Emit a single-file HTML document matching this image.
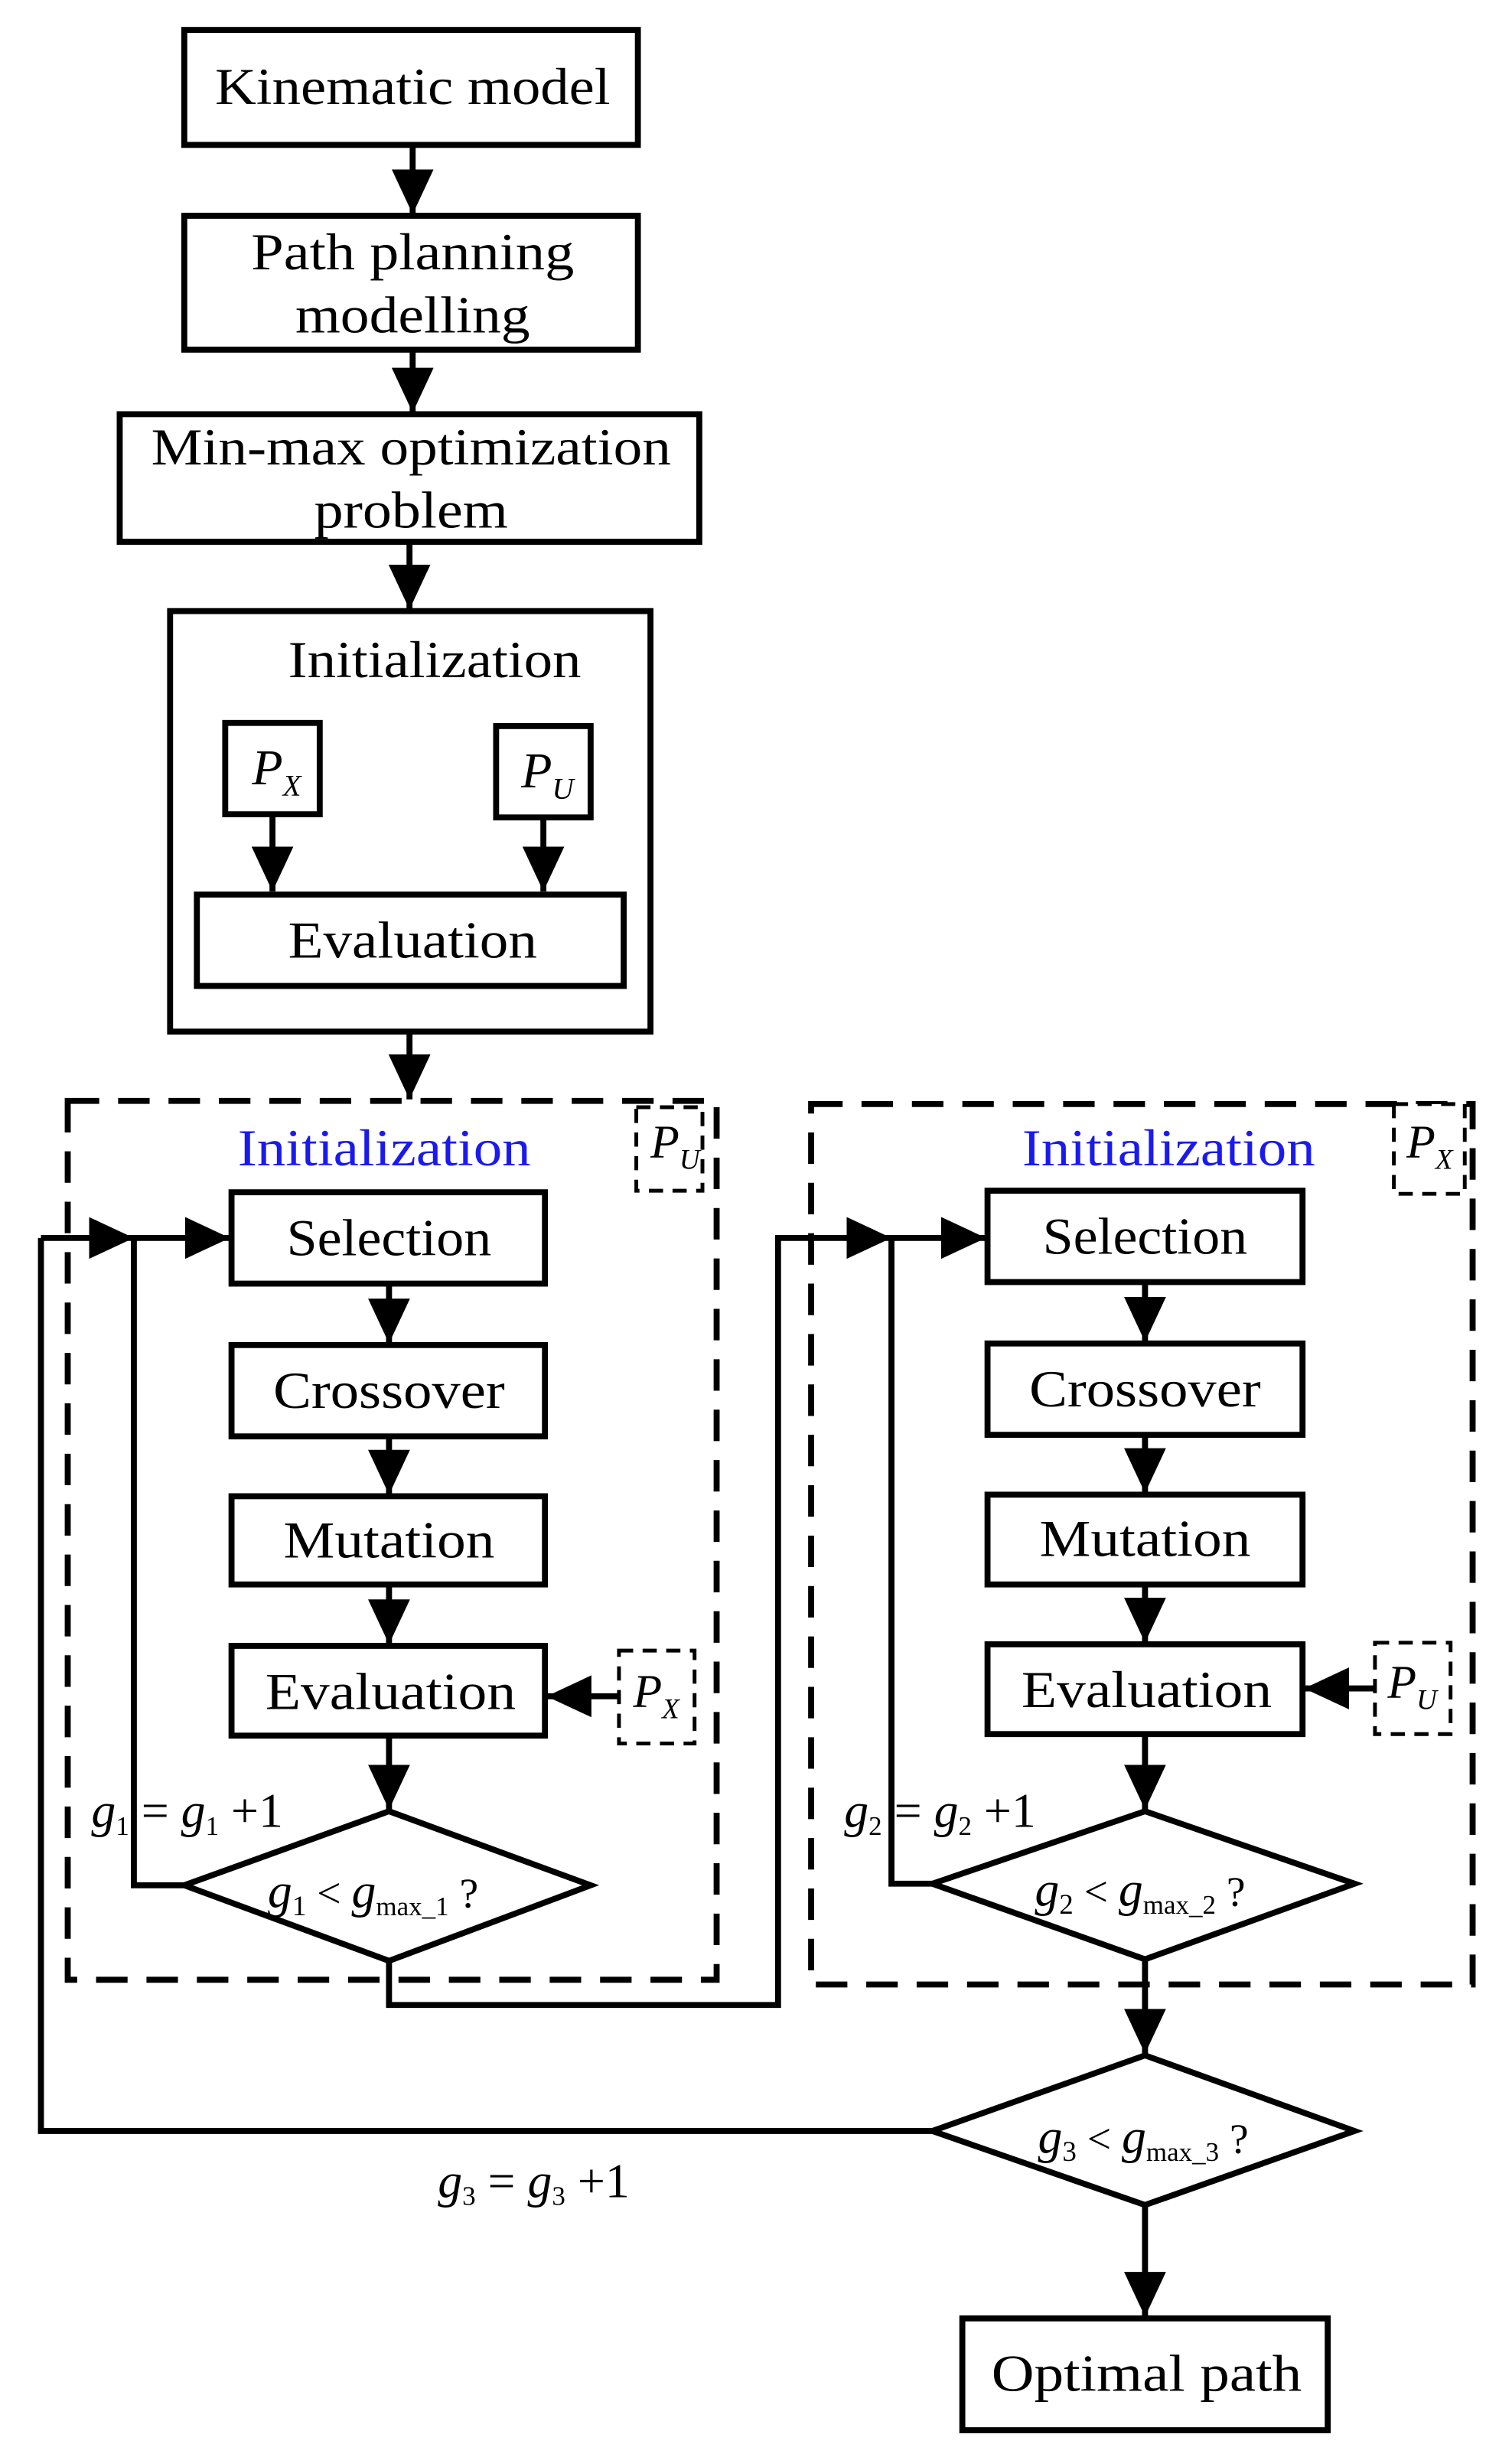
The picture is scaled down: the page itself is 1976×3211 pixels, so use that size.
<!DOCTYPE html>
<html><head><meta charset="utf-8"><style>
html,body{margin:0;padding:0;background:#fff;}
svg{display:block;}
text{font-family:"Liberation Serif",serif;fill:#000;}
.b{fill:#fff;stroke:#000;stroke-width:3.8;}
.d{fill:none;stroke:#000;stroke-width:3.8;stroke-dasharray:20 12;}
.ds{fill:#fff;stroke:#000;stroke-width:2.4;stroke-dasharray:9 6;}
.l{fill:none;stroke:#000;stroke-width:3.8;}
.t{font-size:33px;text-anchor:middle;}
.i{font-style:italic;}
</style></head><body>
<svg width="1976" height="3211" viewBox="0 0 960 1560" preserveAspectRatio="none" xmlns="http://www.w3.org/2000/svg">
<defs>
<marker id="a" viewBox="0 0 10 10" refX="10" refY="5" markerWidth="7.5" markerHeight="7" markerUnits="strokeWidth" orient="auto-start-reverse" preserveAspectRatio="none"><path d="M0,0 L10,5 L0,10 z" fill="#000"/></marker>
</defs>

<rect class="b" x="117" y="19" width="288" height="73"/>
<text class="t" x="262" y="66" textLength="251" lengthAdjust="spacingAndGlyphs">Kinematic model</text>
<line class="l" x1="262" y1="92" x2="262" y2="136" marker-end="url(#a)"/>
<rect class="b" x="117" y="137" width="288" height="85"/>
<text class="t" x="262" y="171" textLength="205" lengthAdjust="spacingAndGlyphs">Path planning</text>
<text class="t" x="262" y="211" textLength="149" lengthAdjust="spacingAndGlyphs">modelling</text>
<line class="l" x1="262" y1="222" x2="262" y2="262" marker-end="url(#a)"/>
<rect class="b" x="76" y="263" width="368" height="81"/>
<text class="t" x="261" y="295" textLength="330" lengthAdjust="spacingAndGlyphs">Min-max optimization</text>
<text class="t" x="261" y="335" textLength="123" lengthAdjust="spacingAndGlyphs">problem</text>
<line class="l" x1="260" y1="344" x2="260" y2="387" marker-end="url(#a)"/>

<rect class="b" x="108" y="388" width="305" height="267"/>
<text class="t" x="276" y="430" textLength="186" lengthAdjust="spacingAndGlyphs">Initialization</text>
<rect class="b" x="143" y="459" width="60" height="58"/>
<text x="160" y="498" font-size="32" class="i">P<tspan font-size="19" dy="7">X</tspan></text>
<rect class="b" x="315" y="461" width="60" height="58"/>
<text x="331" y="500" font-size="32" class="i">P<tspan font-size="19" dy="7">U</tspan></text>
<line class="l" x1="173" y1="517" x2="173" y2="566" marker-end="url(#a)"/>
<line class="l" x1="345" y1="519" x2="345" y2="566" marker-end="url(#a)"/>
<rect class="b" x="125" y="568" width="271" height="58"/>
<text class="t" x="262" y="608" textLength="158" lengthAdjust="spacingAndGlyphs">Evaluation</text>
<line class="l" x1="260" y1="655" x2="260" y2="698" marker-end="url(#a)"/>

<rect class="d" x="43" y="699" width="412" height="558"/>
<text class="t" x="244" y="740" style="fill:#1a1aee" textLength="186" lengthAdjust="spacingAndGlyphs">Initialization</text>
<rect class="ds" x="404" y="703" width="42" height="53"/>
<text x="413" y="735" font-size="30" class="i">P<tspan font-size="18" dy="7">U</tspan></text>
<rect class="b" x="147" y="757" width="199" height="58"/>
<text class="t" x="247" y="797" textLength="130" lengthAdjust="spacingAndGlyphs">Selection</text>
<line class="l" x1="247" y1="815" x2="247" y2="853" marker-end="url(#a)"/>
<rect class="b" x="147" y="854" width="199" height="58"/>
<text class="t" x="247" y="894" textLength="147" lengthAdjust="spacingAndGlyphs">Crossover</text>
<line class="l" x1="247" y1="912" x2="247" y2="949" marker-end="url(#a)"/>
<rect class="b" x="147" y="950" width="199" height="56"/>
<text class="t" x="247" y="989" textLength="134" lengthAdjust="spacingAndGlyphs">Mutation</text>
<line class="l" x1="247" y1="1006" x2="247" y2="1044" marker-end="url(#a)"/>
<rect class="b" x="147" y="1045" width="199" height="57"/>
<text class="t" x="248" y="1085" textLength="159" lengthAdjust="spacingAndGlyphs">Evaluation</text>
<rect class="ds" x="393" y="1048" width="48" height="59"/>
<text x="402" y="1084" font-size="30" class="i">P<tspan font-size="18" dy="7">X</tspan></text>
<line class="l" x1="393" y1="1077" x2="347" y2="1077" marker-end="url(#a)"/>
<line class="l" x1="247" y1="1102" x2="247" y2="1149" marker-end="url(#a)"/>
<polygon class="b" points="247,1150 375,1197 247,1245 117,1197"/>
<text x="170" y="1211" font-size="31" class="i">g<tspan font-size="18" dy="5" font-style="normal">1</tspan><tspan dy="-5" font-style="normal" font-size="27"> &lt; </tspan>g<tspan font-size="17" dy="5" font-style="normal">max_1</tspan><tspan dy="-5" font-style="normal" font-size="27"> ?</tspan></text>
<text x="58" y="1160" font-size="31" class="i">g<tspan font-size="17" dy="5" font-style="normal">1</tspan><tspan dy="-5" font-style="normal"> = </tspan>g<tspan font-size="17" dy="5" font-style="normal">1</tspan><tspan dy="-5" font-style="normal"> +1</tspan></text>
<polyline class="l" points="117,1197 85,1197 85,786 146,786" marker-end="url(#a)"/>
<line class="l" x1="26" y1="786" x2="85" y2="786" marker-end="url(#a)"/>
<polyline class="l" points="247,1245 247,1273 494,1273 494,786 566,786" marker-end="url(#a)"/>

<rect class="d" x="515" y="701" width="420" height="559"/>
<text class="t" x="742" y="740" style="fill:#1a1aee" textLength="186" lengthAdjust="spacingAndGlyphs">Initialization</text>
<rect class="ds" x="885" y="701" width="45" height="57"/>
<text x="893" y="735" font-size="30" class="i">P<tspan font-size="18" dy="7">X</tspan></text>
<rect class="b" x="627" y="756" width="200" height="58"/>
<text class="t" x="727" y="796" textLength="130" lengthAdjust="spacingAndGlyphs">Selection</text>
<line class="l" x1="727" y1="814" x2="727" y2="852" marker-end="url(#a)"/>
<rect class="b" x="627" y="853" width="200" height="58"/>
<text class="t" x="727" y="893" textLength="147" lengthAdjust="spacingAndGlyphs">Crossover</text>
<line class="l" x1="727" y1="911" x2="727" y2="948" marker-end="url(#a)"/>
<rect class="b" x="627" y="949" width="200" height="57"/>
<text class="t" x="727" y="988" textLength="134" lengthAdjust="spacingAndGlyphs">Mutation</text>
<line class="l" x1="727" y1="1006" x2="727" y2="1043" marker-end="url(#a)"/>
<rect class="b" x="627" y="1044" width="200" height="57"/>
<text class="t" x="728" y="1084" textLength="159" lengthAdjust="spacingAndGlyphs">Evaluation</text>
<rect class="ds" x="873" y="1043" width="48" height="58"/>
<text x="881" y="1078" font-size="30" class="i">P<tspan font-size="18" dy="7">U</tspan></text>
<line class="l" x1="873" y1="1072" x2="828" y2="1072" marker-end="url(#a)"/>
<line class="l" x1="727" y1="1101" x2="727" y2="1149" marker-end="url(#a)"/>
<polygon class="b" points="727,1150 860,1196 727,1244 592,1196"/>
<text x="657" y="1210" font-size="31" class="i">g<tspan font-size="18" dy="5" font-style="normal">2</tspan><tspan dy="-5" font-style="normal" font-size="27"> &lt; </tspan>g<tspan font-size="17" dy="5" font-style="normal">max_2</tspan><tspan dy="-5" font-style="normal" font-size="27"> ?</tspan></text>
<text x="536" y="1160" font-size="31" class="i">g<tspan font-size="17" dy="5" font-style="normal">2</tspan><tspan dy="-5" font-style="normal"> = </tspan>g<tspan font-size="17" dy="5" font-style="normal">2</tspan><tspan dy="-5" font-style="normal"> +1</tspan></text>
<polyline class="l" points="592,1196 566,1196 566,786 626,786" marker-end="url(#a)"/>

<line class="l" x1="727" y1="1244" x2="727" y2="1304" marker-end="url(#a)"/>
<polygon class="b" points="727,1305 860,1353 727,1400 592,1353"/>
<text x="659" y="1367" font-size="31" class="i">g<tspan font-size="18" dy="5" font-style="normal">3</tspan><tspan dy="-5" font-style="normal" font-size="27"> &lt; </tspan>g<tspan font-size="17" dy="5" font-style="normal">max_3</tspan><tspan dy="-5" font-style="normal" font-size="27"> ?</tspan></text>
<polyline class="l" points="592,1353 26,1353 26,786"/>
<text x="278" y="1395" font-size="31" class="i">g<tspan font-size="17" dy="5" font-style="normal">3</tspan><tspan dy="-5" font-style="normal"> = </tspan>g<tspan font-size="17" dy="5" font-style="normal">3</tspan><tspan dy="-5" font-style="normal"> +1</tspan></text>
<line class="l" x1="727" y1="1400" x2="727" y2="1471" marker-end="url(#a)"/>
<rect class="b" x="611" y="1472" width="232" height="71"/>
<text class="t" x="728" y="1518" textLength="197" lengthAdjust="spacingAndGlyphs">Optimal path</text>
</svg>
</body></html>
